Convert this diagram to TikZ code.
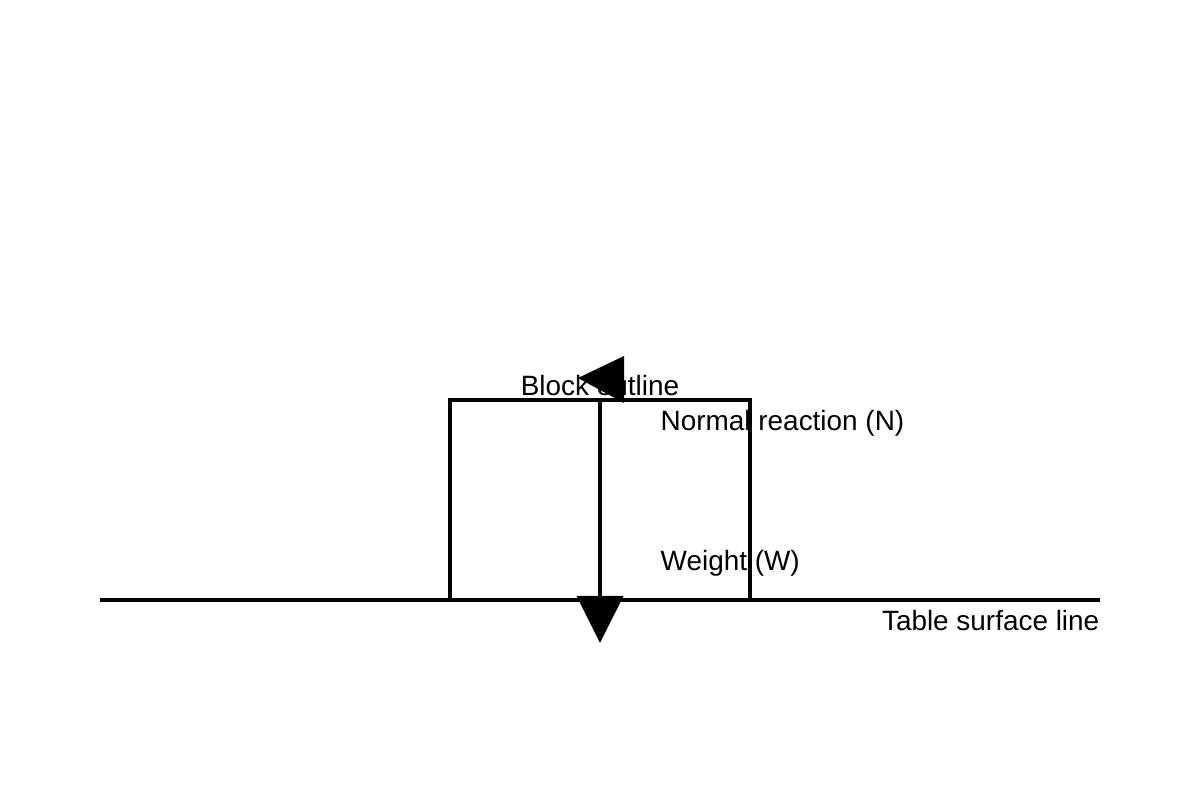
\documentclass[tikz,border=0pt]{standalone}
\usepackage{fontspec}
\setmainfont{Liberation Sans}
\usetikzlibrary{arrows.meta}
\begin{document}
\begin{tikzpicture}[x=0.01cm,y=-0.01cm,
  line/.style={line width=1.1pt},
  lbl/.style={inner sep=0pt,font=\fontsize{7.94pt}{9pt}\selectfont}]
\useasboundingbox (0,0) rectangle (1200,800);
% table surface
\coordinate (tL) at (100,600);
\coordinate (tR) at (1100,600);
\draw[line] (tL) -- (tR);
% block
\node[line,draw,minimum width=3cm,minimum height=2cm,inner sep=0pt] (block) at (600,500) {};
% force line and weight arrow
\coordinate (wEnd) at (600,643);
\draw[line,-{Triangle[length=0.47cm,width=0.46cm]}] (block.north) -- (wEnd);
% normal reaction arrowhead
\coordinate (nTip) at (578,378);
\fill (nTip) -- (624,356) -- (624,403) -- cycle;
% labels
\node[lbl,anchor=base] (lblock) at (600,395) {Block outline};
\node[lbl,anchor=base west] (lN) at (660,430) {Normal reaction (N)};
\node[lbl,anchor=base west] (lW) at (660,570) {Weight (W)};
\node[lbl,anchor=base east] (lT) at (1100,630) {Table surface line};
\end{tikzpicture}
\end{document}
